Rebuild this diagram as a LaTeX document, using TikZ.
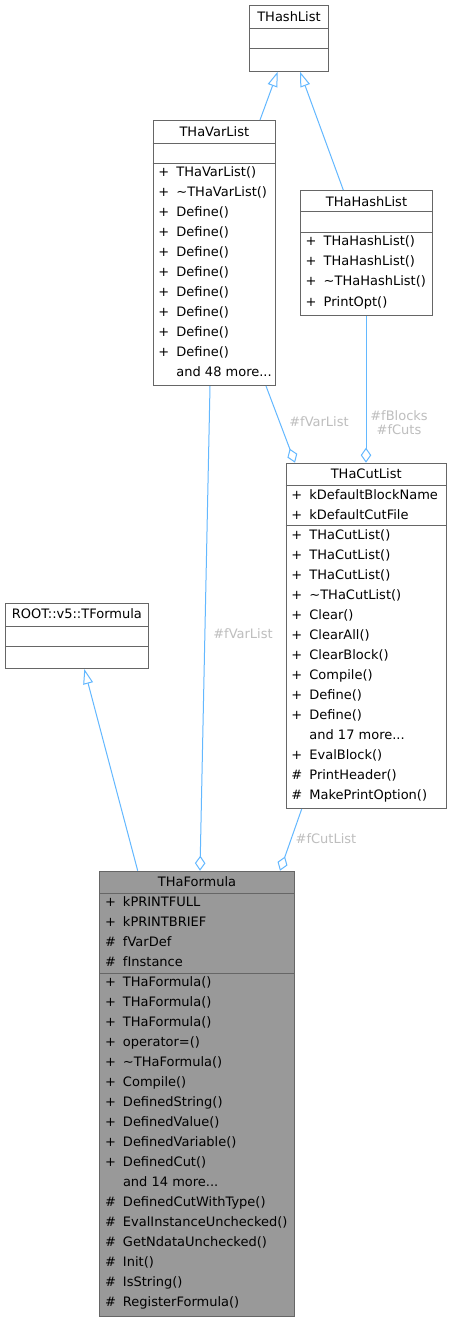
\documentclass[tikz,border=0pt]{standalone}
\usepackage{fontspec}
\setmainfont{DejaVu Sans}
\usetikzlibrary{arrows.meta,calc}
\definecolor{edgeblue}{HTML}{63B8FF}
\definecolor{boxgray}{HTML}{666666}
\definecolor{labelgray}{HTML}{BEBEBE}
\definecolor{hlfill}{HTML}{999999}
\newcommand\tdots{...}
\newcommand\mrows[3]{%
  \foreach \s/\t [count=\i from 0] in {#3} {%
    \node[member] (#2-\i) at ($(#1)+(5.5,13.3+20*\i)$) {\makebox[18pt][l]{\s}\t};
  }%
}
\tikzset{
  classbox/.style={draw=boxgray, line width=1pt, fill=white, rectangle, inner sep=0pt, anchor=north west},
  divider/.style={draw=boxgray, line width=1pt},
  titletext/.style={font=\fontsize{13}{15}\selectfont, anchor=base, inner sep=0pt},
  member/.style={font=\fontsize{13}{15}\selectfont, anchor=base west, inner sep=0pt},
  edgelabel/.style={font=\fontsize{13}{14.3}\selectfont, text=labelgray, align=center, inner sep=0pt},
  inherit/.style={draw=edgeblue, line width=1pt, -{Triangle[open, length=15pt, width=10pt, fill=white]}},
  memberedge/.style={draw=edgeblue, line width=1pt, -{Diamond[open, length=15pt, width=10.5pt, fill=white]}},
}
\begin{document}
\begin{tikzpicture}[x=1pt,y=-1pt]
\useasboundingbox (0,0) rectangle (451,1321);
\fill[white] (0,0) rectangle (451,1321);

% THashList
\node[classbox, minimum width=79pt, minimum height=65.7pt] (hashlist) at (249,5) {};
\node[titletext] (hashlist-t) at ($(hashlist.north)+(0,16.2)$) {THashList};
\draw[divider] ($(hashlist.north west)+(0,24)$) -- ($(hashlist.north east)+(0,24)$);
\draw[divider] ($(hashlist.north west)+(0,44)$) -- ($(hashlist.north east)+(0,44)$);

% THaVarList
\node[classbox, minimum width=122.3pt, minimum height=265pt] (varlist) at (152.7,120) {};
\node[titletext] (varlist-t) at ($(varlist.north)+(0,16.2)$) {THaVarList};
\draw[divider] ($(varlist.north west)+(0,23.3)$) -- ($(varlist.north east)+(0,23.3)$);
\draw[divider] ($(varlist.north west)+(0,43.3)$) -- ($(varlist.north east)+(0,43.3)$);
\coordinate (varlist-ms) at ($(varlist.north west)+(0,43.3)$);
\mrows{varlist-ms}{varlist-m}{+/THaVarList(), +/\textasciitilde THaVarList(), +/Define(), +/Define(), +/Define(), +/Define(), +/Define(), +/Define(), +/Define(), +/Define(), {}/and 48 more\tdots}

% THaHashList
\node[classbox, minimum width=132pt, minimum height=125pt] (hhl) at (300,190) {};
\node[titletext] (hhl-t) at ($(hhl.north)+(0,16.2)$) {THaHashList};
\draw[divider] ($(hhl.north west)+(0,22)$) -- ($(hhl.north east)+(0,22)$);
\draw[divider] ($(hhl.north west)+(0,42.7)$) -- ($(hhl.north east)+(0,42.7)$);
\coordinate (hhl-ms) at ($(hhl.north west)+(0,42.7)$);
\mrows{hhl-ms}{hhl-m}{+/THaHashList(), +/THaHashList(), +/\textasciitilde THaHashList(), +/PrintOpt()}

% THaCutList
\node[classbox, minimum width=160pt, minimum height=345.3pt] (cutlist) at (285.7,462.7) {};
\node[titletext] (cutlist-t) at ($(cutlist.north)+(0,16.2)$) {THaCutList};
\draw[divider] ($(cutlist.north west)+(0,23)$) -- ($(cutlist.north east)+(0,23)$);
\draw[divider] ($(cutlist.north west)+(0,63)$) -- ($(cutlist.north east)+(0,63)$);
\coordinate (cutlist-as) at ($(cutlist.north west)+(0,23)$);
\coordinate (cutlist-ms) at ($(cutlist.north west)+(0,63)$);
\mrows{cutlist-as}{cutlist-a}{+/kDefaultBlockName, +/kDefaultCutFile}
\mrows{cutlist-ms}{cutlist-m}{+/THaCutList(), +/THaCutList(), +/THaCutList(), +/\textasciitilde THaCutList(), +/Clear(), +/ClearAll(), +/ClearBlock(), +/Compile(), +/Define(), +/Define(), {}/and 17 more\tdots, +/EvalBlock(), \#/PrintHeader(), \#/MakePrintOption()}

% ROOT::v5::TFormula
\node[classbox, minimum width=142.7pt, minimum height=65.3pt] (tformula) at (5,602.7) {};
\node[titletext] (tformula-t) at ($(tformula.north)+(0,16.2)$) {ROOT::v5::TFormula};
\draw[divider] ($(tformula.north west)+(0,24)$) -- ($(tformula.north east)+(0,24)$);
\draw[divider] ($(tformula.north west)+(0,44)$) -- ($(tformula.north east)+(0,44)$);

% THaFormula
\node[classbox, fill=hlfill, minimum width=194.4pt, minimum height=445.3pt] (formula) at (99.3,870.7) {};
\node[titletext] (formula-t) at ($(formula.north)+(0,16.2)$) {THaFormula};
\draw[divider] ($(formula.north west)+(0,22.6)$) -- ($(formula.north east)+(0,22.6)$);
\draw[divider] ($(formula.north west)+(0,102.6)$) -- ($(formula.north east)+(0,102.6)$);
\coordinate (formula-as) at ($(formula.north west)+(0,22.6)$);
\coordinate (formula-ms) at ($(formula.north west)+(0,102.6)$);
\mrows{formula-as}{formula-a}{+/kPRINTFULL, +/kPRINTBRIEF, \#/fVarDef, \#/fInstance}
\mrows{formula-ms}{formula-m}{+/THaFormula(), +/THaFormula(), +/THaFormula(), +/operator=(), +/\textasciitilde THaFormula(), +/Compile(), +/DefinedString(), +/DefinedValue(), +/DefinedVariable(), +/DefinedCut(), {}/and 14 more\tdots, \#/DefinedCutWithType(), \#/EvalInstanceUnchecked(), \#/GetNdataUnchecked(), \#/Init(), \#/IsString(), \#/RegisterFormula()}

% connectors
\draw[inherit] ($(varlist.north west)+(107.3,0)$) -- ($(hashlist.south west)+(28.7,0)$);
\draw[inherit] ($(hhl.north west)+(43.3,0)$) -- ($(hashlist.south west)+(51,0)$);
\draw[memberedge] ($(hhl.south west)+(66,0)$) -- ($(cutlist.north west)+(80.3,0)$);
\draw[memberedge] ($(varlist.south west)+(113.3,0)$) -- ($(cutlist.north west)+(9.3,0)$);
\draw[memberedge] ($(varlist.south west)+(57.3,0)$) -- ($(formula.north west)+(100.7,0)$);
\draw[inherit] ($(formula.north west)+(38.4,0)$) -- ($(tformula.south west)+(79.3,0)$);
\draw[memberedge] ($(cutlist.south west)+(16,0)$) -- ($(formula.north west)+(180.7,0)$);

% edge labels
\node[edgelabel] (lbl-vc) at (319,422) {\#fVarList};
\node[edgelabel] (lbl-bc) at (399,423) {\#fBlocks\\\#fCuts};
\node[edgelabel] (lbl-vf) at (243,634) {\#fVarList};
\node[edgelabel] (lbl-cf) at (326,838.3) {\#fCutList};
\end{tikzpicture}
\end{document}
